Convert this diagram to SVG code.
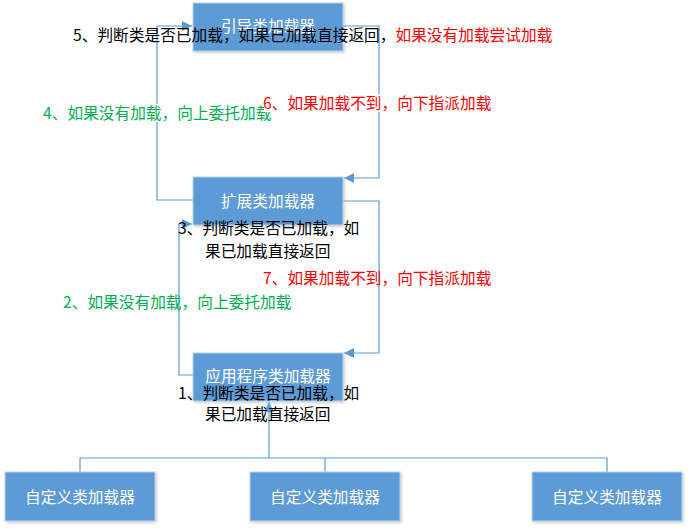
<svg xmlns="http://www.w3.org/2000/svg" width="688" height="529" viewBox="0 0 688 529">
<defs>
<marker id="arr" viewBox="0 0 10 10" refX="10" refY="5" markerWidth="10" markerHeight="10" markerUnits="userSpaceOnUse" orient="auto">
<path d="M0,0 L10,5 L0,10 z" fill="#5B9BD5"/>
</marker>
<filter id="sh" x="-10%" y="-10%" width="125%" height="130%">
<feDropShadow dx="1.5" dy="1.5" stdDeviation="1" flood-color="#999" flood-opacity="0.45"/>
</filter>
</defs>
<style>
.box{fill:#5B9BD5;stroke:#BCD3EC;stroke-width:1;filter:url(#sh)}
.bt{font-family:"Noto Sans CJK SC","Noto Sans",sans-serif;font-size:15.7px;fill:#fff;text-anchor:middle}
.t{font-family:"Noto Sans CJK SC","Noto Sans",sans-serif;font-size:15.7px}
.k{fill:#000}
.r{fill:#FF0000}
.g{fill:#00B050}
.ln{fill:none;stroke:#5B9BD5;stroke-width:1.2}
</style>
<rect width="688" height="529" fill="#fff"/>
<g id="connectors">
<path class="ln" d="M193,200 H157 V26 H192" marker-end="url(#arr)"/>
<path class="ln" d="M343,26 H379 V178 H344" marker-end="url(#arr)"/>
<path class="ln" d="M193,375 H179 V224 H192" marker-end="url(#arr)"/>
<path class="ln" d="M343,201 H379 V353 H344" marker-end="url(#arr)"/>
<path class="ln" d="M269,458 V402" marker-end="url(#arr)"/>
<path class="ln" d="M80,472 V458 H607 V472 M325,458 V472"/>
</g>
<g id="bootstrap">
<rect class="box" x="193" y="3" width="150" height="48"/>
<text class="bt" x="268" y="32">引导类加载器</text>
</g>
<g id="extension">
<rect class="box" x="193" y="177" width="150" height="48"/>
<text class="bt" x="268" y="207">扩展类加载器</text>
</g>
<g id="application">
<rect class="box" x="193" y="353" width="150" height="48"/>
<text class="bt" x="268" y="382">应用程序类加载器</text>
</g>
<g id="custom1">
<rect class="box" x="5" y="472" width="150" height="49"/>
<text class="bt" x="80" y="503">自定义类加载器</text>
</g>
<g id="custom2">
<rect class="box" x="250" y="472" width="150" height="49"/>
<text class="bt" x="325" y="503">自定义类加载器</text>
</g>
<g id="custom3">
<rect class="box" x="532" y="472" width="150" height="49"/>
<text class="bt" x="607" y="503">自定义类加载器</text>
</g>
<g id="labels">
<text class="t" x="73" y="41"><tspan class="k">5、判断类是否已加载，如果已加载直接返回，</tspan><tspan class="r">如果没有加载尝试加载</tspan></text>
<rect x="44" y="104" width="226" height="18" fill="#fff"/>
<text class="t g" x="43" y="119">4、如果没有加载，向上委托加载</text>
<rect x="264" y="94" width="228" height="18" fill="#fff"/>
<text class="t r" x="263" y="109">6、如果加载不到，向下指派加载</text>
<text class="t k" x="178" y="234">3、判断类是否已加载，如</text>
<text class="t k" x="205" y="257">果已加载直接返回</text>
<text class="t r" x="263" y="284">7、如果加载不到，向下指派加载</text>
<text class="t g" x="63" y="308">2、如果没有加载，向上委托加载</text>
<text class="t k" x="178" y="399">1、判断类是否已加载，如</text>
<text class="t k" x="205" y="420">果已加载直接返回</text>
</g>
</svg>
